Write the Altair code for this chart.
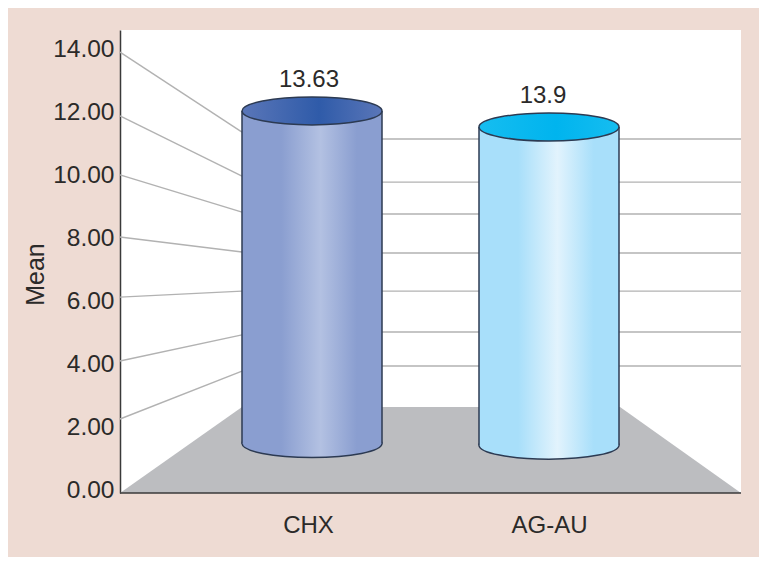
import altair as alt
import pandas as pd

# ---- data (values on the Mean axis) ----
categories = ["CHX", "AG-AU"]
cylinder_tops = [12.13, 11.62]
cylinder_bases = [1.57, 1.52]
value_labels = ["13.63", "13.9"]
label_dx = [-3, -6]

y_ticks = [0, 2, 4, 6, 8, 10, 12, 14]
# sloped wall lines on the left side wall: height at the front edge / at the back wall
left_front = [14.0, 11.97, 10.10, 8.13, 6.22, 4.19, 2.35]
left_back = [11.46, 10.06, 8.92, 7.65, 6.41, 5.02, 3.87]
# horizontal lines on the back wall
back_wall = [11.24, 9.87, 8.86, 7.62, 6.41, 5.11, 4.03]
# floor outline in depth units: position along the x direction / height at that position
floor_x = [0, 122, 500, 621]
floor_h = [0, 2.73, 2.73, 0]
WALL_X = 122
RIGHT_X = 621

body_colors = [
    [("#8a9ed0", 0), ("#8a9ed0", 0.28), ("#b3c1e2", 0.56), ("#8a9ed0", 0.82), ("#8a9ed0", 1)],
    [("#a8dffa", 0), ("#a8dffa", 0.28), ("#e2f3fd", 0.56), ("#a8dffa", 0.82), ("#a8dffa", 1)],
]
lid_colors = [
    [("#5a76b8", 0), ("#2f5ba9", 0.55), ("#5a76b8", 1)],
    [("#16bdf0", 0), ("#00b4ee", 0.55), ("#16bdf0", 1)],
]

PINK = "#eedbd3"
DARK = "#2b2a29"
EDGE = "#2c3a52"
WALL = "#b2b2b2"
FONT = "Liberation Sans"

ELLIPSE = "M-1,0 A1,0.2 0 1,1 1,0 A1,0.2 0 1,1 -1,0 Z"
CYL_W = 140


def grad(stops):
    return alt.Gradient(
        gradient="linear", x1=0, x2=1, y1=0, y2=0,
        stops=[alt.GradientStop(color=c, offset=o) for c, o in stops],
    )


y_scale = alt.Scale(domain=[0, 14.7], nice=False, zero=False)
depth_scale = alt.Scale(domain=[0, RIGHT_X], nice=False, zero=False)
band_scale = alt.Scale(domain=categories, range=[73.5, 547.5], paddingInner=0, paddingOuter=0)

y_axis = alt.Axis(title="Mean", values=y_ticks, format=".2f", grid=False, ticks=False,
                  domainColor="#3a3a3a", domainWidth=1.5,
                  labelFont=FONT, labelFontSize=24.5, labelColor=DARK,
                  labelPadding=6, labelOffset=-3,
                  titleFont=FONT, titleFontSize=25, titleFontWeight="normal",
                  titleColor=DARK, titleX=-72, titleY=244)

Y_PLAIN = dict(scale=y_scale, axis=y_axis)
X_DEPTH = alt.X("x:Q", scale=depth_scale, axis=None)
X2 = alt.X2("x2:Q")

# floor
floor = (
    alt.Chart(pd.DataFrame({"x": floor_x, "h": floor_h}))
    .mark_area(color="#bcbdc0", interpolate="linear", opacity=1)
    .encode(x=X_DEPTH, y=alt.Y("h:Q", **Y_PLAIN), y2=alt.datum(0))
)

# side wall lines
left_df = pd.DataFrame({"x": [0] * len(left_front), "x2": [WALL_X] * len(left_front),
                        "a": left_front, "b": left_back})
left_lines = (
    alt.Chart(left_df).mark_rule(color=WALL, strokeWidth=1.4)
    .encode(x=X_DEPTH, x2=X2, y=alt.Y("a:Q", **Y_PLAIN), y2=alt.Y2("b:Q"))
)
back_df = pd.DataFrame({"x": [WALL_X] * len(back_wall), "x2": [RIGHT_X] * len(back_wall),
                        "a": back_wall})
back_lines = (
    alt.Chart(back_df).mark_rule(color=WALL, strokeWidth=1.4)
    .encode(x=X_DEPTH, x2=X2, y=alt.Y("a:Q", **Y_PLAIN))
)

# axis carrying layer: category labels
axis_df = pd.DataFrame({"cat": categories, "v": [0, 0]})
axis_layer = (
    alt.Chart(axis_df).mark_point(opacity=0)
    .encode(
        x=alt.X("cat:N", scale=band_scale, sort=categories,
                axis=alt.Axis(title=None, domain=False, ticks=False, labelAngle=0,
                              labelFont=FONT, labelFontSize=24, labelColor=DARK,
                              labelPadding=20, labelBaseline="top",
                              labelOffset={"condition": {"test": "datum.value == 'CHX'", "value": -4},
                                           "value": 0})),
        y=alt.Y("v:Q", **Y_PLAIN),
    )
)

baseline = (
    alt.Chart(pd.DataFrame({"x": [0], "x2": [RIGHT_X], "a": [0]}))
    .mark_rule(color="#3a3a3a", strokeWidth=1.5)
    .encode(x=X_DEPTH, x2=X2, y=alt.Y("a:Q", **Y_PLAIN))
)

layers = [floor, left_lines, back_lines, baseline, axis_layer]

for i, cat in enumerate(categories):
    row = pd.DataFrame({"cat": [cat], "top": [cylinder_tops[i]], "base": [cylinder_bases[i]],
                        "label": [value_labels[i]]})
    X_CAT = alt.X("cat:N", scale=band_scale, sort=categories, axis=None)
    base = alt.Chart(row)
    bottom = base.mark_point(shape=ELLIPSE, size=CYL_W ** 2, filled=True, opacity=1,
                             fill=grad(body_colors[i]), stroke=EDGE, strokeWidth=1.5
                             ).encode(x=X_CAT, y=alt.Y("base:Q", **Y_PLAIN))
    body = base.mark_bar(size=CYL_W, fill=grad(body_colors[i]), opacity=1
                         ).encode(x=X_CAT, y=alt.Y("top:Q", **Y_PLAIN), y2=alt.Y2("base:Q"))
    side_l = base.mark_rule(color=EDGE, strokeWidth=1.5, xOffset=-CYL_W / 2
                            ).encode(x=X_CAT, y=alt.Y("top:Q", **Y_PLAIN), y2=alt.Y2("base:Q"))
    side_r = base.mark_rule(color=EDGE, strokeWidth=1.5, xOffset=CYL_W / 2
                            ).encode(x=X_CAT, y=alt.Y("top:Q", **Y_PLAIN), y2=alt.Y2("base:Q"))
    lid = base.mark_point(shape=ELLIPSE, size=CYL_W ** 2, filled=True, opacity=1,
                          fill=grad(lid_colors[i]), stroke=EDGE, strokeWidth=1.5
                          ).encode(x=X_CAT, y=alt.Y("top:Q", **Y_PLAIN))
    text = base.mark_text(font=FONT, fontSize=24, color=DARK, dx=label_dx[i], dy=-31,
                          baseline="middle"
                          ).encode(x=X_CAT, y=alt.Y("top:Q", **Y_PLAIN), text="label:N")
    layers += [bottom, body, side_l, side_r, lid, text]

chart = (
    alt.layer(*layers)
    .resolve_scale(x="independent")
    .properties(
        width=621, height=463, background=PINK,
        padding={"left": 112, "top": 22, "right": 18, "bottom": 64},
        autosize=alt.AutoSizeParams(type="none"),
    )
    .configure_view(fill="white", stroke=None)
)

chart.save("out.html", embed_options={"renderer": "svg", "actions": False})
